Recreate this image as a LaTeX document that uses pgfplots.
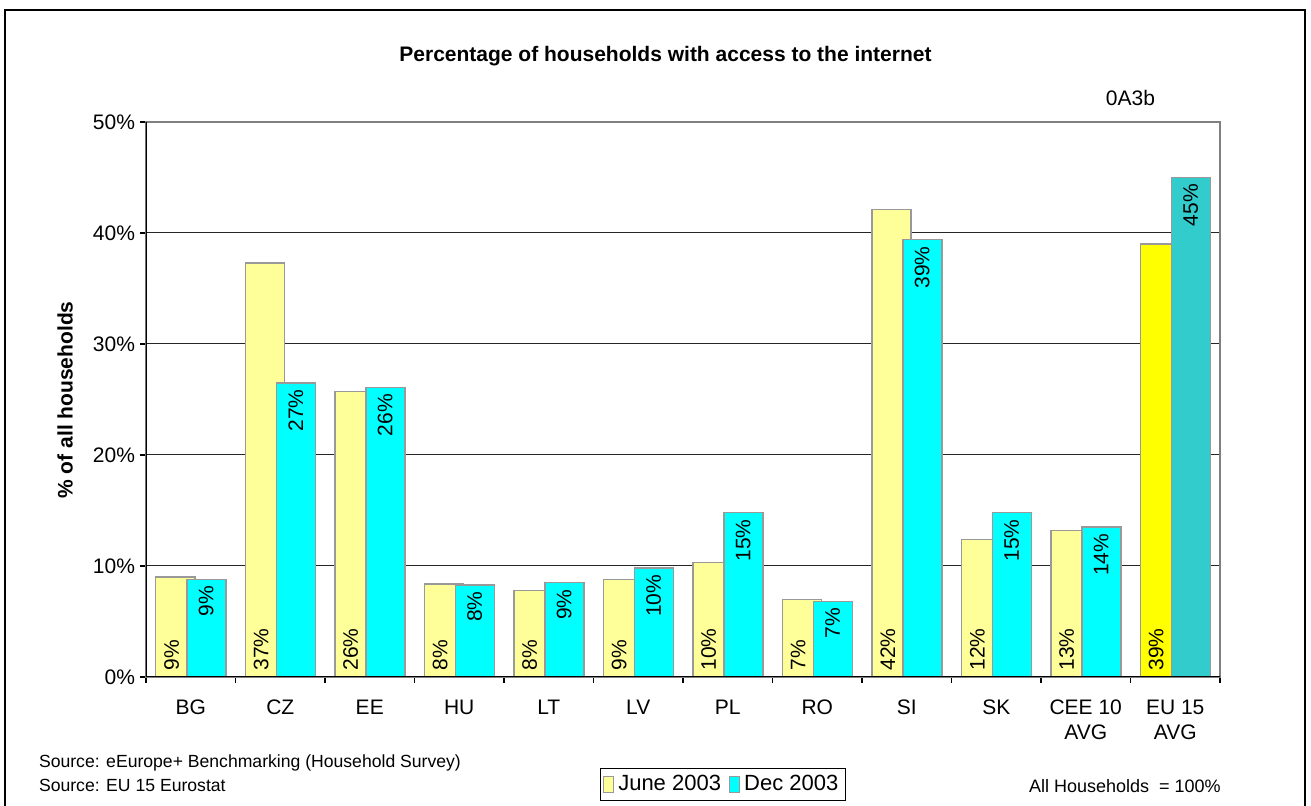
\documentclass[border=0pt]{standalone}
\usepackage{fontspec}
\setmainfont{Liberation Sans}
\usepackage{pgfplots}
\pgfplotsset{compat=1.18}
\definecolor{june}{HTML}{FFFF99}
\definecolor{dec}{HTML}{00FFFF}
\definecolor{euj}{HTML}{FFFF00}
\definecolor{eud}{HTML}{33CCCC}
\definecolor{baredge}{HTML}{999999}
\newcommand\fA{\fontsize{10.5pt}{12.3pt}\selectfont}
\newcommand\fL{\fontsize{11pt}{13pt}\selectfont}
\newcommand\fS{\fontsize{8.8pt}{10.5pt}\selectfont}
\newcommand\fH{\fontsize{9pt}{11pt}\selectfont}
\begin{document}
\begin{tikzpicture}
\useasboundingbox (0,0) rectangle (655.5pt,403pt);
\draw[line width=1.1pt] (2.5pt,-5pt) -- (2.5pt,398pt) -- (652.5pt,398pt) -- (652.5pt,-5pt);
\begin{axis}[
  at={(73pt,64.5pt)}, anchor=south west,
  scale only axis, width=537pt, height=277.5pt,
  xmin=-0.5, xmax=11.5, ymin=0, ymax=50,
  ytick={0,10,...,50},
  yticklabels={0\%,10\%,20\%,30\%,40\%,50\%},
  xtick={0,...,11},
  xticklabels={BG,CZ,EE,HU,LT,LV,PL,RO,SI,SK,{CEE 10\\AVG},{EU 15\\AVG}},
  xticklabel style={align=center, yshift=-5pt, font=\fA},
  yticklabel style={font=\fA, xshift=1pt},
  minor xtick={-0.5,0.5,...,11.5},
  major x tick style={draw=none},
  tick align=outside, tick pos=left,
  major tick length=3pt, minor tick length=3pt,
  tick style={black, line width=0.6pt},
  ymajorgrids, major grid style={black!85, line width=0.5pt},
  axis line style={draw=gray, line width=0.6pt},
  ybar, bar width=19.5pt, area legend,
  legend style={at={(axis description cs:0.537,-0.193)}, anchor=center,
    legend columns=2, draw=black, font=\fL, inner sep=1.5pt,
    /tikz/every even column/.append style={column sep=2pt}},
  legend image code/.code={\draw[#1, draw=baredge, line width=0.6pt] (0pt,-4pt) rectangle (5pt,4pt);},
]
\addplot[fill=june, draw=baredge, line width=0.75pt, bar shift=-7.75pt]
  coordinates {(0,9.0) (1,37.3) (2,25.7) (3,8.4) (4,7.8) (5,8.8) (6,10.3) (7,7.0) (8,42.1) (9,12.4) (10,13.2)};
\addplot[fill=dec, draw=baredge, line width=0.75pt, bar shift=7.75pt,
  nodes near coords={\pgfplotspointmeta\%}, point meta=explicit symbolic,
  every node near coord/.append style={rotate=90, anchor=east, inner sep=3pt, font=\fA, black}]
  coordinates {(0,8.8) [9] (1,26.5) [27] (2,26.1) [26] (3,8.3) [8] (4,8.5) [9] (5,9.8) [10] (6,14.8) [15] (7,6.8) [7] (8,39.4) [39] (9,14.8) [15] (10,13.5) [14]};
\legend{June 2003,Dec 2003}
\addplot[fill=euj, draw=baredge, line width=0.75pt, bar shift=-7.75pt, forget plot]
  coordinates {(11,39.0)};
\addplot[fill=eud, draw=baredge, line width=0.75pt, bar shift=7.75pt, forget plot,
  nodes near coords={\pgfplotspointmeta\%}, point meta=explicit symbolic,
  every node near coord/.append style={rotate=90, anchor=east, inner sep=3pt, font=\fA, black}]
  coordinates {(11,45.0) [45]};
\addplot[draw=none, fill=none, bar shift=-9.5pt, forget plot,
  nodes near coords={\pgfplotspointmeta\%}, point meta=explicit symbolic,
  every node near coord/.append style={rotate=90, anchor=west, inner sep=3pt, font=\fA, black}]
  coordinates {(0,0) [9] (1,0) [37] (2,0) [26] (3,0) [8] (4,0) [8] (5,0) [9] (6,0) [10] (7,0) [7] (8,0) [42] (9,0) [12] (10,0) [13] (11,0) [39]};
\draw[black, line width=0.6pt] (rel axis cs:0,1) -- (rel axis cs:0,0) -- (rel axis cs:1,0);
\end{axis}
\node[font=\fA\bfseries] at (332.75pt,375pt) {Percentage of households with access to the internet};
\node[font=\fA, anchor=east] at (581pt,354pt) {0A3b};
\node[font=\fA\bfseries, rotate=90] at (32.5pt,203pt) {\% of all households};
\node[font=\fS, anchor=west] at (16pt,21.5pt) {Source: eEurope+ Benchmarking (Household Survey)};
\node[font=\fS, anchor=west] at (16pt,10.5pt) {Source: EU 15 Eurostat};
\node[font=\fH, anchor=west] at (511pt,10pt) {All Households \ = 100\%};
\end{tikzpicture}
\end{document}
